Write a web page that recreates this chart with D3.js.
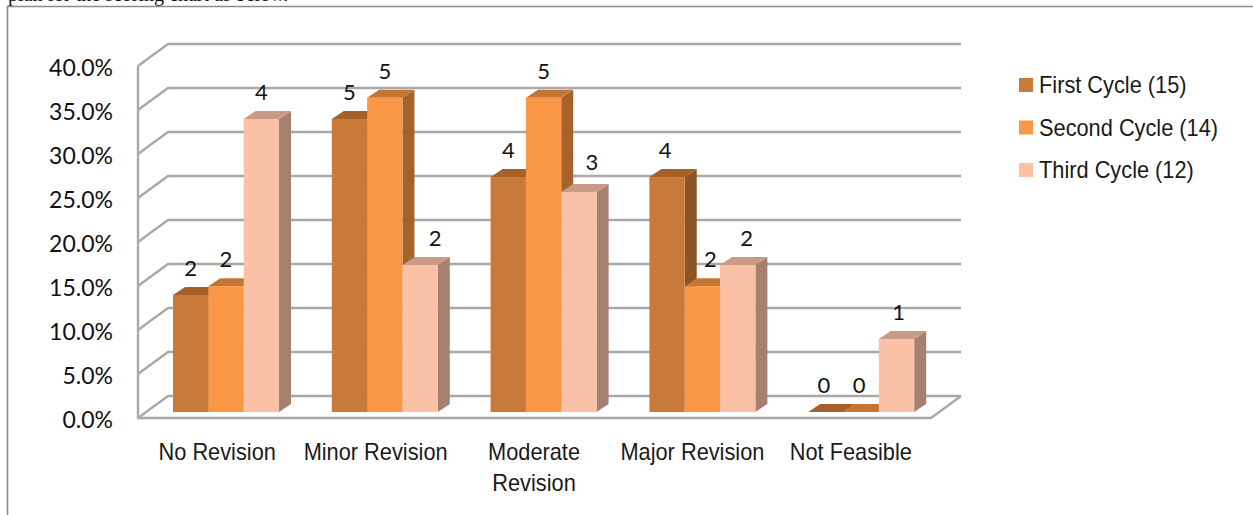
<!DOCTYPE html>
<html>
<head>
<meta charset="utf-8">
<script src="https://cdnjs.cloudflare.com/ajax/libs/d3/7.8.5/d3.min.js"></script>
<style>
  html, body { margin: 0; padding: 0; background: #fff; overflow: hidden; }
  svg { display: block; }
  .num { font-family: Lato, "Open Sans", sans-serif; fill: #111; }
  .cat { font-family: "Liberation Sans", sans-serif; fill: #1a1a1a; }
</style>
</head>
<body>
<svg id="chart" width="1253" height="515"></svg>
<script>
// Share of papers per revision class, by review cycle
const categories = ["No Revision", "Minor Revision", "Moderate Revision", "Major Revision", "Not Feasible"];
const seriesNames = ["First Cycle (15)", "Second Cycle (14)", "Third Cycle (12)"];
const firstCycle = [13.3, 33.3, 26.7, 26.7, 0];
const secondCycle = [14.3, 35.7, 35.7, 14.3, 0];
const thirdCycle = [33.3, 16.7, 25.0, 16.7, 8.3];
const firstCounts = [2, 5, 4, 4, 0];
const secondCounts = [2, 5, 5, 2, 0];
const thirdCounts = [4, 2, 3, 2, 1];
const yTicks = [0, 5, 10, 15, 20, 25, 30, 35, 40];
const frontColors = ["#c77a3a", "#f99746", "#fbc1a6"];
const topColors = ["#a4612a", "#c47533", "#c99a85"];
const sideColors = ["#8f5423", "#a5622a", "#a6806f"];

const svg = d3.select("#chart");
const seriesValues = [firstCycle, secondCycle, thirdCycle];
const seriesCounts = [firstCounts, secondCounts, thirdCounts];

const y = d3.scaleLinear().domain([0, 40]).range([418, 66]);
const x = d3.scaleBand().domain(categories).range([138, 932]);
const inner = d3.scaleBand().domain(seriesNames).range([35, 141]);
const labelX = d3.scaleBand().domain(categories).range([138, 930]);

// Depth of the chart box and of each bar
const wall = { dx: 30, dy: -22 };
const bar = { dx: 12, dy: -8, lift: 6 };

// Hand placement of count labels that sit beside their bar: [series, category, dx, dy]
const labelNudges = [
  [0, 3, -2, 0], [0, 4, -2, 0],
  [1, 3, 8, 0], [1, 4, -2, 0],
  [2, 1, 15, 0], [2, 2, 13, -3], [2, 3, 9, 0], [2, 4, 2, 0]
];

// Squeezes a text or tspan horizontally, keeping its glyph height
function narrow(node, ratio) {
  d3.select(node)
    .attr("textLength", node.getComputedTextLength() * ratio)
    .attr("lengthAdjust", "spacingAndGlyphs");
}

// Frame and the line of body text that runs off the top edge
svg.append("text").attr("x", 8).attr("y", 1)
  .attr("font-family", "Liberation Serif, serif").attr("font-size", 20).attr("fill", "#111")
  .text("plan for the scoring chart as below.");
svg.append("path").attr("d", "M7.5,515V6.5H1253").attr("fill", "none").attr("stroke", "#8c8c8c").attr("stroke-width", 1.6);

// Gridlines on the back and left walls
const grid = svg.append("g").attr("fill", "none").attr("stroke", "#a8a8a8").attr("stroke-width", 2.4);
const [x0, x1] = [138, 931];
yTicks.forEach(t => {
  const py = y(t);
  grid.append("path").attr("d", `M${x0},${py}L${x0 + wall.dx},${py + wall.dy}L${x1 + wall.dx},${py + wall.dy}`);
});
grid.append("path").attr("d", `M${x0},${y(40)}V${y(0)}H${x1}L${x1 + wall.dx},${y(0) + wall.dy}`);

// Bars, drawn left to right so each one overlaps its neighbour's side face
categories.forEach((c, i) => {
  const g = svg.append("g");
  seriesNames.forEach((s, k) => {
    const v = seriesValues[k][i];
    const left = x(c) + inner(s);
    const right = left + inner.bandwidth();
    const base = y(0) - bar.lift;
    const top = y(v) - bar.lift;
    g.append("path").attr("fill", sideColors[k])
      .attr("d", `M${right},${base}L${right + bar.dx},${base + bar.dy}V${top + bar.dy}L${right},${top}Z`);
    g.append("path").attr("fill", topColors[k])
      .attr("d", `M${left},${top}L${left + bar.dx},${top + bar.dy}H${right + bar.dx}L${right},${top}Z`);
    g.append("rect").attr("x", left).attr("y", top)
      .attr("width", inner.bandwidth()).attr("height", base - top).attr("fill", frontColors[k]);
  });
});

// Count labels above the bars
categories.forEach((c, i) => {
  seriesNames.forEach((s, k) => {
    const nudge = labelNudges.find(n => n[0] === k && n[1] === i) || [k, i, 0, 0];
    svg.append("text").attr("class", "num")
      .attr("x", x(c) + inner(s) + inner.bandwidth() / 2 + nudge[2])
      .attr("y", y(seriesValues[k][i]) - bar.lift - 27 + nudge[3])
      .attr("dy", "0.36em").attr("text-anchor", "middle").attr("font-size", 22)
      .text(seriesCounts[k][i]);
  });
});

// Percentage axis
const yAxis = svg.append("g").attr("transform", "translate(119,2)")
  .call(d3.axisLeft(y).tickValues(yTicks).tickSize(0).tickPadding(6).tickFormat(d => d3.format(".1f")(d) + "%"));
yAxis.select(".domain").remove();
yAxis.attr("font-family", null).attr("font-size", null);
yAxis.selectAll("text").attr("class", "num").attr("font-size", 23).attr("fill", null);

// Category axis; long names wrap onto a second line
const xAxis = svg.append("g").attr("transform", "translate(0,443)")
  .call(d3.axisBottom(labelX).tickSize(0).tickPadding(0));
xAxis.select(".domain").remove();
xAxis.attr("font-family", null).attr("font-size", null);
xAxis.selectAll("text").each(function (d) {
  const t = d3.select(this).attr("class", "cat").attr("font-size", 24).attr("fill", null).attr("y", 0).attr("dy", "0.71em");
  if (d === "Moderate Revision") {
    t.text(null);
    const first = t.append("tspan").attr("x", 0).text("Moderate");
    const second = t.append("tspan").attr("x", 0).attr("dy", 31).text("Revision");
    narrow(first.node(), 0.907);
    narrow(second.node(), 0.907);
  } else {
    narrow(this, 0.907);
  }
});

// Legend
const legend = svg.append("g").selectAll("g").data(seriesNames).join("g")
  .attr("transform", (d, i) => `translate(1019,${78 + i * 42.5})`);
legend.append("rect").attr("width", 14).attr("height", 14).attr("fill", (d, i) => frontColors[i]);
legend.append("text").attr("class", "cat").attr("x", 20).attr("y", 7).attr("dy", "0.34em")
  .attr("font-size", 24).text(d => d)
  .each(function () { narrow(this, 0.907); });
</script>
</body>
</html>
